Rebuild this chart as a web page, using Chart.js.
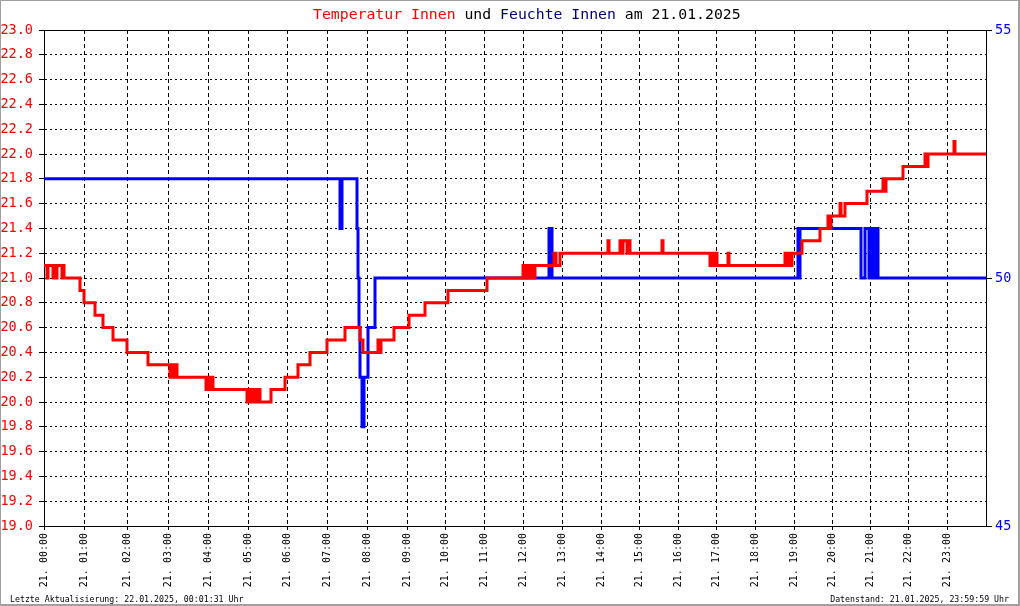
<!DOCTYPE html>
<html>
<head>
<meta charset="utf-8">
<script src="https://cdn.jsdelivr.net/npm/chart.js@4/dist/chart.umd.min.js"></script>
<style>
  html, body { margin: 0; padding: 0; background: #fff; }
  #wrap { position: relative; width: 1020px; height: 606px; }
  #frame { position: absolute; left: 0; top: 0; width: 1020px; height: 606px; box-sizing: border-box;
           border: 1px solid #a0a0a0; border-right-width: 2px; border-bottom-width: 2px; pointer-events: none; }
  .txt { position: absolute; font-family: "DejaVu Sans Mono", monospace; white-space: pre; }
  #title { left: 313px; top: 6px; font-size: 14.8px; line-height: 15px; color: #000; }
  #title .t { color: #ff0000; }
  #title .h { color: #000080; }
  .foot { top: 594px; font-size: 8.25px; line-height: 10px; color: #000; }
  #footL { left: 10px; }
  #footR { right: 11px; }
</style>
</head>
<body>
<div id="wrap">
  <canvas id="chart" width="1020" height="606"></canvas>
  <div id="title" class="txt"><span class="t">Temperatur Innen</span> und <span class="h">Feuchte Innen</span> am 21.01.2025</div>
  <div id="footL" class="txt foot">Letzte Aktualisierung: 22.01.2025, 00:01:31 Uhr</div>
  <div id="footR" class="txt foot">Datenstand: 21.01.2025, 23:59:59 Uhr</div>
  <div id="frame"></div>
</div>
<script>
  // x axis runs over the sample index of the day (0 .. 942), like the original plot
  const sampleCount = 942

  // hour labels and the sample index where each hour starts
  const hourLabels = [
    "21. 00:00", "21. 01:00", "21. 02:00", "21. 03:00", "21. 04:00", "21. 05:00",
    "21. 06:00", "21. 07:00", "21. 08:00", "21. 09:00", "21. 10:00", "21. 11:00",
    "21. 12:00", "21. 13:00", "21. 14:00", "21. 15:00", "21. 16:00", "21. 17:00",
    "21. 18:00", "21. 19:00", "21. 20:00", "21. 21:00", "21. 22:00", "21. 23:00"
  ]
  const hourIndex = [
    0, 40, 83, 124, 164, 204, 243, 283, 323, 363, 401, 440,
    479, 518, 557, 595, 634, 672, 711, 750, 788, 826, 864, 903
  ]

  // temperature (°C): sample index -> value held from there on
  const tempIdx = [
    0, 3, 4, 9, 10, 12, 13, 18, 19, 20, 36, 40, 51, 59, 69, 83,
    104, 126, 128, 130, 131, 133, 162, 163, 165, 166, 169, 203, 206, 207, 209, 211,
    214, 216, 227, 241, 254, 266, 283, 301, 316, 319, 334, 335, 337, 350, 365, 381,
    404, 443, 479, 481, 483, 485, 487, 490, 491, 510, 512, 516, 564, 565,
    576, 578, 579, 583, 584, 586, 618, 619, 666, 667, 669, 671, 673, 684,
    685, 741, 743, 745, 747, 748, 758, 776, 784, 786, 787, 796, 797, 801,
    823, 839, 840, 842, 859, 881, 882, 884, 910, 911, 942
  ]
  const tempValues = [
    21.1, 21.0, 21.1, 21.0, 21.1, 21.0, 21.1, 21.0, 21.1, 21.0, 20.9, 20.8, 20.7, 20.6, 20.5, 20.4,
    20.3, 20.2, 20.3, 20.2, 20.3, 20.2, 20.1, 20.2, 20.1, 20.2, 20.1, 20.0, 20.1, 20.0, 20.1, 20.0,
    20.1, 20.0, 20.1, 20.2, 20.3, 20.4, 20.5, 20.6, 20.5, 20.4, 20.5, 20.4, 20.5, 20.6, 20.7, 20.8,
    20.9, 21.0, 21.1, 21.0, 21.1, 21.0, 21.1, 21.0, 21.1, 21.2, 21.1, 21.2, 21.3, 21.2,
    21.3, 21.2, 21.3, 21.2, 21.3, 21.2, 21.3, 21.2, 21.1, 21.2, 21.1, 21.2, 21.1, 21.2,
    21.1, 21.2, 21.1, 21.2, 21.1, 21.2, 21.3, 21.4, 21.5, 21.4, 21.5, 21.6, 21.5, 21.6,
    21.7, 21.8, 21.7, 21.8, 21.9, 22.0, 21.9, 22.0, 22.1, 22.0, 22.0
  ]

  // humidity (%): sample index -> value held from there on
  const humIdx = [
    0, 296, 298, 313, 314, 315, 316, 318, 320, 324, 331, 505, 508,
    754, 755, 756, 817, 821, 825, 827, 830, 831, 834, 942
  ]
  const humValues = [
    52, 51, 52, 51, 50, 49, 48, 47, 48, 49, 50, 51, 50,
    51, 50, 51, 50, 51, 50, 51, 50, 51, 50, 50
  ]

  const red   = "#FF0000"
  const blue  = "#0000FF"
  const black = "#000000"
  const mono  = "'DejaVu Sans Mono', monospace"

  const toPoints = (xs, ys) => xs.map((x, i) => ({ x, y: ys[i] }))

  // solid line along the top edge of the plot
  const topEdge = {
    id: "topEdge",
    beforeDatasetsDraw(chart) {
      const { ctx, chartArea: a } = chart
      ctx.save()
      ctx.strokeStyle = black
      ctx.lineWidth = 1
      ctx.beginPath()
      ctx.moveTo(a.left, a.top + 0.5)
      ctx.lineTo(a.right, a.top + 0.5)
      ctx.stroke()
      ctx.restore()
    }
  }

  new Chart(document.getElementById("chart"), {
    type: "line",
    data: {
      datasets: [
        {
          label: "Temperatur Innen",
          data: toPoints(tempIdx, tempValues),
          yAxisID: "y",
          borderColor: red,
          borderWidth: 3,
          stepped: true,
          pointRadius: 0,
          fill: false
        },
        {
          label: "Feuchte Innen",
          data: toPoints(humIdx, humValues),
          yAxisID: "y1",
          borderColor: blue,
          borderWidth: 3,
          stepped: true,
          pointRadius: 0,
          fill: false
        }
      ]
    },
    options: {
      responsive: false,
      animation: false,
      events: [],
      layout: { padding: { top: 30, left: 0, right: 0, bottom: 0 } },
      font: { family: mono },
      plugins: {
        legend: { display: false },
        title: { display: false },
        tooltip: { enabled: false }
      },
      scales: {
        x: {
          type: "linear",
          min: 0,
          max: sampleCount,
          afterFit: s => { s.height = 80 },
          afterBuildTicks: s => { s.ticks = hourIndex.map(v => ({ value: v })) },
          grid: { color: black, tickLength: 4, tickBorderDash: [] },
          border: { color: black, dash: [4, 3] },
          ticks: {
            autoSkip: false,
            maxRotation: 90,
            minRotation: 90,
            padding: 3,
            color: black,
            font: { family: mono, size: 10 },
            callback: (v, i) => hourLabels[i] ?? ""
          }
        },
        y: {
          position: "left",
          min: 19,
          max: 23,
          afterFit: s => { s.width = 44 },
          grid: { color: black, tickLength: 5, tickBorderDash: [] },
          border: { color: black, dash: [2, 3] },
          ticks: {
            stepSize: 0.2,
            autoSkip: false,
            padding: 6,
            color: red,
            font: { family: mono, size: 13.5 },
            callback: v => Number(v).toFixed(1)
          }
        },
        y1: {
          position: "right",
          min: 45,
          max: 55,
          afterFit: s => { s.width = 34 },
          grid: { drawOnChartArea: false, color: black, tickLength: 6 },
          border: { color: black },
          ticks: {
            stepSize: 5,
            padding: 3,
            color: blue,
            font: { family: mono, size: 13.5 }
          }
        }
      }
    },
    plugins: [topEdge]
  })
</script>
</body>
</html>
